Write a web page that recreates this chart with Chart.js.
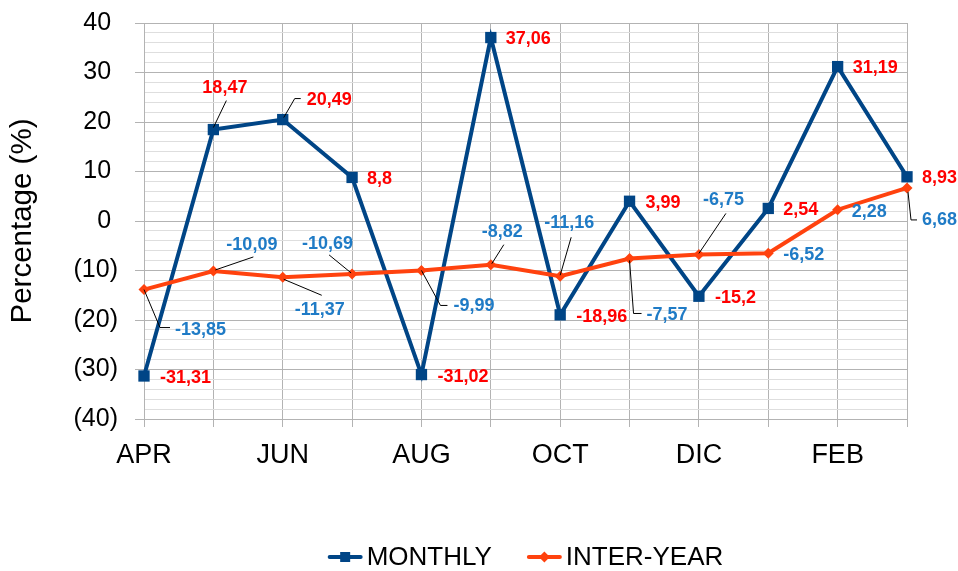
<!DOCTYPE html>
<html>
<head>
<meta charset="utf-8">
<style>
  html, body { margin: 0; padding: 0; background: #fff; }
</style>
<script src="https://cdn.jsdelivr.net/npm/chart.js@4.4.1/dist/chart.umd.min.js"></script>
</head>
<body>
<canvas id="myChart" width="958" height="571"></canvas>
<script>
const months = ['APR', 'MAY', 'JUN', 'JUL', 'AUG', 'SEP', 'OCT', 'NOV', 'DIC', 'JAN', 'FEB', 'MAR'];
const shownMonths = ['APR', 'JUN', 'AUG', 'OCT', 'DIC', 'FEB'];
const monthly = [-31.31, 18.47, 20.49, 8.8, -31.02, 37.06, -18.96, 3.99, -15.2, 2.54, 31.19, 8.93];
const interYear = [-13.85, -10.09, -11.37, -10.69, -9.99, -8.82, -11.16, -7.57, -6.75, -6.52, 2.28, 6.68];

const FONT = '"Liberation Sans", Arial, sans-serif';

// label offset from the point [dx, dy, leader polyline]
const labelSpots = [
  [[16, 2], [-11, -42, [[0, -2], [13, -29]]], [24, -20, [[1, -2], [12, -21], [18, -21]]], [15, 2],
   [16, 2], [15, 1], [16, 2], [16, 2], [16, 2], [15, 2], [15, 1], [15, 1]],
  [[31, 40, [[0, 0], [16, 38], [26, 38]]], [13, -26, [[2, -1], [40, -14]]], [12, 33, [[1, 2], [39, 18]]],
   [-50, -30, [[-1, -1], [-23, -19]]], [32, 36, [[0, 0], [19, 35], [26, 35]]], [-9, -33, [[1, -1], [13, -20]]],
   [-16, -53, [[0, -1], [11, -39]]], [17, 57, [[0, 2], [4, 55], [12, 55]]], [4, -54, [[0, -1], [27, -41]]],
   [15, 2], [14, 2], [15, 32, [[1, 4], [4, 32], [10, 32]]]]
];
const labelColors = ['#ff0000', '#1f7bc6'];

const valueLabels = {
  id: 'valueLabels',
  afterDatasetsDraw(chart) {
    const ctx = chart.ctx;
    ctx.save();
    ctx.font = 'bold 18px ' + FONT;
    ctx.textAlign = 'left';
    ctx.textBaseline = 'middle';
    chart.data.datasets.forEach((ds, d) => {
      chart.getDatasetMeta(d).data.forEach((pt, i) => {
        const spot = labelSpots[d][i];
        if (spot[2]) {
          ctx.strokeStyle = '#000';
          ctx.lineWidth = 1;
          ctx.beginPath();
          spot[2].forEach((p, k) => {
            if (k === 0) ctx.moveTo(pt.x + p[0], pt.y + p[1]);
            else ctx.lineTo(pt.x + p[0], pt.y + p[1]);
          });
          ctx.stroke();
        }
        ctx.fillStyle = labelColors[d];
        ctx.fillText(String(ds.data[i]).replace('.', ','), pt.x + spot[0], pt.y + spot[1]);
      });
    });
    ctx.restore();
  }
};

const bottomLegend = {
  id: 'bottomLegend',
  afterDraw(chart) {
    const ctx = chart.ctx;
    const area = chart.chartArea;
    ctx.save();
    ctx.font = '26px ' + FONT;
    const items = chart.data.datasets.map(ds => ({ds: ds, w: 39 + ctx.measureText(ds.label).width}));
    const gap = 35;
    const total = items.reduce((s, it) => s + it.w, 0) + gap * (items.length - 1);
    let x = (area.left + area.right) / 2 - total / 2;
    const y = 557;
    items.forEach(it => {
      const c = it.ds.borderColor;
      ctx.strokeStyle = c;
      ctx.fillStyle = c;
      ctx.lineWidth = 4;
      ctx.lineCap = 'round';
      ctx.beginPath();
      ctx.moveTo(x + 2, y);
      ctx.lineTo(x + 33, y);
      ctx.stroke();
      const cx = x + 17.5;
      ctx.beginPath();
      if (it.ds.pointStyle === 'rect') {
        ctx.rect(cx - 5, y - 5, 10, 10);
      } else {
        ctx.moveTo(cx, y - 5.5);
        ctx.lineTo(cx + 5.5, y);
        ctx.lineTo(cx, y + 5.5);
        ctx.lineTo(cx - 5.5, y);
        ctx.closePath();
      }
      ctx.fill();
      ctx.fillStyle = '#000';
      ctx.textAlign = 'left';
      ctx.textBaseline = 'middle';
      ctx.fillText(it.ds.label, x + 39, y + 1);
      x += it.w + gap;
    });
    ctx.restore();
  }
};

const ctx = document.getElementById('myChart').getContext('2d');

const chart = new Chart(ctx, {
  type: 'line',
  data: {
    labels: months,
    datasets: [{
      label: 'MONTHLY',
      data: monthly,
      borderColor: '#004586',
      backgroundColor: '#004586',
      borderWidth: 4,
      pointStyle: 'rect',
      pointRadius: 8,
      pointBorderWidth: 0,
      order: 1,
      clip: false
    },
    {
      label: 'INTER-YEAR',
      data: interYear,
      borderColor: '#ff420e',
      backgroundColor: '#ff420e',
      borderWidth: 4,
      pointStyle: 'rectRot',
      pointRadius: 5.5,
      pointBorderWidth: 0,
      order: 0,
      clip: false
    }]
  },
  options: {
    responsive: false,
    animation: false,
    layout: { padding: { top: 23, right: 51, bottom: 0, left: 0 } },
    plugins: {
      legend: { display: false },
      tooltip: { enabled: false }
    },
    scales: {
      x: {
        afterFit: s => {
          s.height = 152;
          s.paddingLeft = 0;
          s.paddingRight = 0;
        },
        border: { color: '#b3b3b3' },
        grid: { color: '#b3b3b3', tickColor: '#b3b3b3', tickLength: 8 },
        ticks: {
          autoSkip: false,
          maxRotation: 0,
          padding: 12,
          color: '#000',
          font: { family: FONT, size: 27 },
          callback: function(v) {
            const m = this.getLabelForValue(v);
            return shownMonths.includes(m) ? m : '';
          }
        }
      },
      y: {
        min: -40,
        max: 40,
        afterFit: s => {
          s.width = 144;
          s.paddingTop = 0;
          s.paddingBottom = 0;
        },
        border: { color: '#b3b3b3' },
        grid: {
          color: c => (c.tick && c.tick.value % 10 === 0) ? '#b3b3b3' : '#dedede',
          tickColor: c => (c.tick && c.tick.value % 10 === 0) ? '#b3b3b3' : 'rgba(0,0,0,0)',
          tickLength: 9
        },
        ticks: {
          stepSize: 2,
          autoSkip: false,
          padding: 17,
          color: '#000',
          font: { family: FONT, size: 25 },
          callback: v => v % 10 !== 0 ? '' : (v < 0 ? '(' + (-v) + ')' : v + ' ')
        },
        title: {
          display: true,
          text: 'Percentage (%)',
          color: '#000',
          font: { family: FONT, size: 29.5 },
          padding: { top: 5, bottom: 0 }
        }
      }
    }
  },
  plugins: [valueLabels, bottomLegend]
});
</script>
</body>
</html>
